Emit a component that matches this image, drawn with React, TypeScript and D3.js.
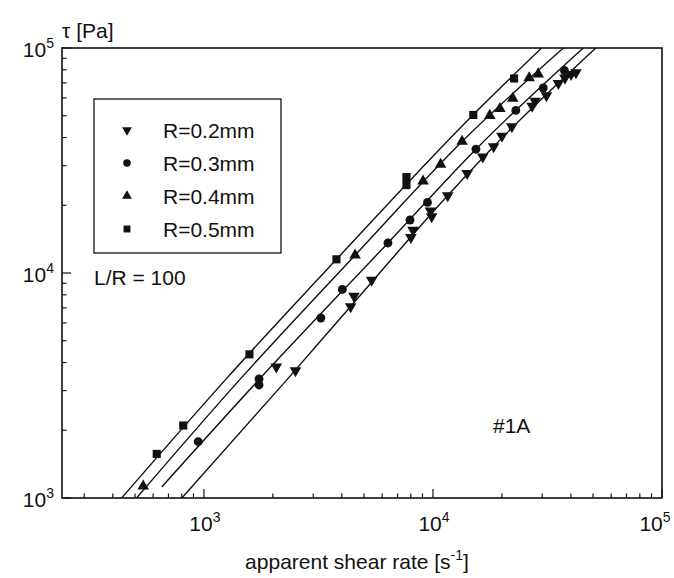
import { useRef, useEffect } from 'react';
import * as d3 from 'd3';

// measured points, [apparent shear rate 1/s, shear stress Pa]
const r02Points = [
  [2070, 3830], [2510, 3680], [4370, 7090], [4520, 7900], [5400, 9310],
  [8010, 14400], [8180, 15500], [9870, 17800], [9750, 18900], [11600, 22100],
  [14100, 27700], [16500, 32800], [18400, 36500], [20000, 40600], [22100, 44700],
  [27100, 55200], [27900, 58100], [31300, 61500], [35300, 69700], [37700, 73600],
  [40100, 76300], [42100, 77800],
];
const r03Points = [
  [944, 1780], [1740, 3380], [1740, 3180], [3240, 6310], [4020, 8450],
  [6360, 13600], [7940, 17200], [9460, 20600], [15400, 35500], [23000, 52800],
  [30300, 66400], [37500, 79400],
];
const r04Points = [
  [543, 1130], [4570, 12000], [9050, 25600], [10800, 30400], [13400, 38400],
  [17700, 50100], [19600, 53800], [22300, 59700], [26300, 73600], [28800, 76600],
];
const r05Points = [
  [622, 1570], [812, 2100], [1580, 4350], [3790, 11500], [7660, 26700],
  [7660, 24600], [15000, 50400], [22600, 73200],
];

// fitted curves
const r02Fit = [[801, 1000], [2300, 3350], [4390, 7140], [11600, 22100], [18400, 36500], [51400, 100000]];
const r03Fit = [[654, 1120], [1735, 3350], [6360, 13600], [15400, 35500], [45300, 100000]];
const r04Fit = [[508, 1000], [1430, 3350], [4570, 12000], [13400, 38400], [37100, 100000]];
const r05Fit = [[437, 1000], [1240, 3350], [3790, 11500], [14950, 50400], [29800, 100000]];

const seriesNames = ['R=0.2mm', 'R=0.3mm', 'R=0.4mm', 'R=0.5mm'];
const seriesSymbols = ['down', 'circle', 'up', 'square'];
const decades = [3, 4, 5];

const W = 674;
const H = 578;
const FONT = 'Liberation Sans, Arial, sans-serif';

function App() {
  const svgRef = useRef<SVGSVGElement>(null);

  useEffect(() => {
    const svg = d3.select(svgRef.current);
    svg.selectAll('*').remove();

    const left = 62, right = 662, top = 48, bottom = 498;
    const x = d3.scaleLog().domain([240, 1e5]).range([left, right]);
    const y = d3.scaleLog().domain([1e3, 1e5]).range([bottom, top]);

    svg.append('rect').attr('width', W).attr('height', H).attr('fill', '#fff');

    svg.append('defs').append('clipPath').attr('id', 'plot-clip')
      .append('rect').attr('x', left).attr('y', top)
      .attr('width', right - left).attr('height', bottom - top);

    const isMajor = (d: number) => Math.abs(Math.log10(d) % 1) < 1e-9;

    // ticks, inward, bottom and left only
    const xTicks = x.ticks().filter((d) => d >= 240 && d <= 1e5);
    svg.append('g').selectAll('line').data(xTicks).join('line')
      .attr('x1', (d) => x(d)).attr('x2', (d) => x(d))
      .attr('y1', bottom)
      .attr('y2', (d) => bottom - (isMajor(d) ? 9 : 4.5))
      .attr('stroke', '#111').attr('stroke-width', 1.2);

    const yTicks = y.ticks();
    svg.append('g').selectAll('line').data(yTicks).join('line')
      .attr('y1', (d) => y(d)).attr('y2', (d) => y(d))
      .attr('x1', left)
      .attr('x2', (d) => left + (isMajor(d) ? 9 : 4.5))
      .attr('stroke', '#111').attr('stroke-width', 1.2);

    // tick labels
    const tl = svg.append('g').attr('font-family', FONT).attr('fill', '#111').attr('font-size', 21);
    decades.forEach((e) => {
      const t = tl.append('text').attr('x', Math.min(x(10 ** e) + 1, 655)).attr('y', 531)
        .attr('text-anchor', 'middle');
      t.append('tspan').text('10');
      t.append('tspan').attr('font-size', 14).attr('dy', -9).text(String(e));
    });
    decades.forEach((e) => {
      const t = tl.append('text').attr('x', 54).attr('y', y(10 ** e) + 9)
        .attr('text-anchor', 'end');
      t.append('tspan').text('10');
      t.append('tspan').attr('font-size', 14).attr('dy', -9).text(String(e));
    });

    // fitted curves
    const line = d3.line<number[]>()
      .x((d) => x(d[0])).y((d) => y(d[1]))
      .curve(d3.curveMonotoneX);
    const fits = [r02Fit, r03Fit, r04Fit, r05Fit];
    svg.append('g').attr('clip-path', 'url(#plot-clip)')
      .selectAll('path').data(fits).join('path')
      .attr('d', (d) => line(d))
      .attr('fill', 'none').attr('stroke', '#111').attr('stroke-width', 1.4);

    // markers
    const symbolPath = (kind: string) => {
      if (kind === 'circle') return d3.symbol(d3.symbolCircle, 62)();
      if (kind === 'square') return d3.symbol(d3.symbolSquare, 66)();
      return d3.symbol(d3.symbolTriangle, 58)();
    };
    const rot = (kind: string) => (kind === 'down' ? ' rotate(180)' : '');
    const all = [r02Points, r03Points, r04Points, r05Points];
    all.forEach((pts, i) => {
      const kind = seriesSymbols[i];
      svg.append('g').selectAll('path').data(pts).join('path')
        .attr('d', symbolPath(kind))
        .attr('transform', (d) => `translate(${x(d[0])},${y(d[1])})${rot(kind)}`)
        .attr('fill', '#111');
    });

    // frame
    svg.append('rect').attr('x', left).attr('y', top)
      .attr('width', right - left).attr('height', bottom - top)
      .attr('fill', 'none').attr('stroke', '#111').attr('stroke-width', 1.6);

    // legend
    const lg = svg.append('g').attr('font-family', FONT).attr('fill', '#111');
    lg.append('rect').attr('x', 94).attr('y', 99).attr('width', 187).attr('height', 154)
      .attr('fill', '#fff').attr('stroke', '#111').attr('stroke-width', 1.3);
    seriesNames.forEach((name, i) => {
      const cy = 130 + i * 33;
      const kind = seriesSymbols[i];
      lg.append('path').attr('d', symbolPath(kind))
        .attr('transform', `translate(127,${cy})${rot(kind)} scale(0.85)`)
        .attr('fill', '#111');
      lg.append('text').attr('x', 163).attr('y', cy + 8).attr('font-size', 21).text(name);
    });
    lg.append('text').attr('x', 94).attr('y', 285).attr('font-size', 21).text('L/R = 100');
    lg.append('text').attr('x', 493).attr('y', 433).attr('font-size', 21).text('#1A');

    // axis titles
    const ttl = svg.append('g').attr('font-family', FONT).attr('fill', '#111').attr('font-size', 21);
    ttl.append('text').attr('x', 62).attr('y', 38).text('τ [Pa]');
    const xt = ttl.append('text').attr('x', 357).attr('y', 569).attr('text-anchor', 'middle');
    xt.append('tspan').text('apparent shear rate [s');
    xt.append('tspan').attr('font-size', 14).attr('dy', -9).text('-1');
    xt.append('tspan').attr('dy', 9).text(']');
  }, []);

  return (
    <svg ref={svgRef} width={W} height={H}
      style={{ position: 'absolute', left: 0, top: 0 }} />
  );
}

export default App;
